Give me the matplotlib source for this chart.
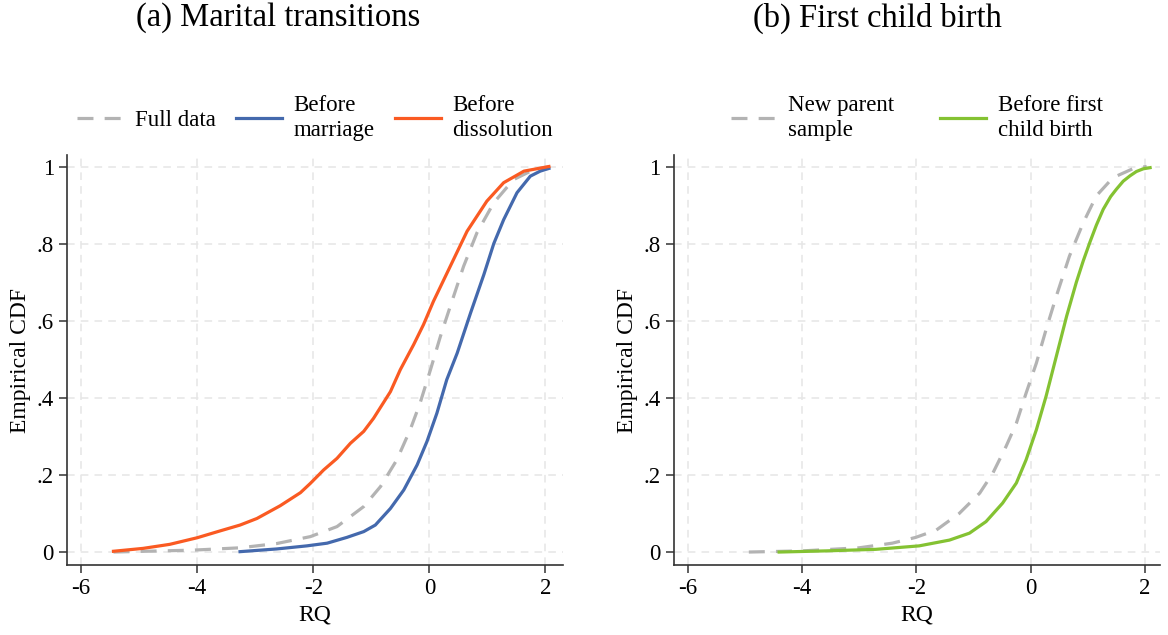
import matplotlib
matplotlib.use('Agg')
import matplotlib.pyplot as plt
import numpy as np

plt.rcParams['font.family'] = ['Liberation Serif', 'DejaVu Serif']
plt.rcParams['axes.unicode_minus'] = False

# ---- (a) Marital transitions: values ----
full_x = [-5.44, -4.06, -3.26, -2.63, -2.05, -1.59, -1.13, -0.84, -0.56, -0.33, -0.16,
          0.02, 0.19, 0.36, 0.59, 0.82, 1.11, 1.45, 1.80, 2.06]
full_y = [0.0, 0.005, 0.011, 0.022, 0.040, 0.066, 0.118, 0.170, 0.239, 0.317, 0.386,
          0.473, 0.559, 0.637, 0.741, 0.828, 0.906, 0.966, 0.992, 0.999]

marr_x = [-3.26, -2.63, -2.11, -1.76, -1.42, -1.13, -0.93, -0.67, -0.44, -0.21, -0.04,
          0.13, 0.30, 0.48, 0.71, 0.94, 1.11, 1.28, 1.51, 1.74, 1.91, 2.06]
marr_y = [0.001, 0.008, 0.016, 0.023, 0.038, 0.053, 0.070, 0.113, 0.161, 0.226, 0.287,
          0.360, 0.447, 0.516, 0.620, 0.720, 0.800, 0.862, 0.932, 0.975, 0.988, 0.995]

diss_x = [-5.44, -4.93, -4.47, -4.0, -3.6, -3.26, -2.97, -2.57, -2.22, -2.05, -1.82,
          -1.59, -1.36, -1.13, -0.96, -0.67, -0.50, -0.27, -0.10, 0.07, 0.36, 0.65,
          0.99, 1.28, 1.63, 2.06]
diss_y = [0.002, 0.0095, 0.020, 0.037, 0.055, 0.070, 0.087, 0.120, 0.154, 0.178, 0.213,
          0.243, 0.282, 0.313, 0.347, 0.416, 0.473, 0.538, 0.590, 0.650, 0.741, 0.832,
          0.910, 0.958, 0.988, 1.0]

# ---- (b) First child birth ----
par_x = [-4.93, -3.99, -3.0, -2.42, -2.01, -1.65, -1.25, -0.89, -0.66, -0.43, -0.25,
         -0.08, 0.10, 0.27, 0.45, 0.68, 0.92, 1.15, 1.44, 1.80, 2.03]
par_y = [0.0, 0.003, 0.011, 0.023, 0.038, 0.057, 0.100, 0.153, 0.205, 0.274, 0.334,
         0.412, 0.490, 0.577, 0.664, 0.768, 0.854, 0.924, 0.971, 0.995, 1.0]

child_x = [-4.40, -3.58, -2.71, -1.95, -1.42, -1.07, -0.78, -0.49, -0.25, -0.08, 0.10,
           0.27, 0.45, 0.63, 0.80, 0.92, 1.04, 1.15, 1.27, 1.40, 1.50, 1.62, 1.74,
           1.85, 1.97, 2.09]
child_y = [0.0, 0.003, 0.007, 0.016, 0.031, 0.049, 0.079, 0.127, 0.179, 0.239, 0.317,
           0.404, 0.508, 0.612, 0.700, 0.755, 0.805, 0.848, 0.889, 0.922, 0.941, 0.962,
           0.976, 0.987, 0.994, 0.997]

xticks = [-6, -4, -2, 0, 2]
yticks = [0, 0.2, 0.4, 0.6, 0.8, 1]
ylabels = ['0', '.2', '.4', '.6', '.8', '1']

gray = '#b3b3b3'
blue = '#4469ad'
orange = '#fa5a22'
green = '#84c232'

fig = plt.figure(figsize=(11.68, 6.35), dpi=100)
ax1 = fig.add_axes([0.0574, 0.110, 0.425, 0.646])
ax2 = fig.add_axes([0.577, 0.110, 0.416, 0.646])


def style(ax, xmax):
    ax.set_xlim(-6.24, xmax)
    ax.set_ylim(-0.034, 1.03)
    ax.set_xticks(xticks)
    ax.set_yticks(yticks)
    ax.set_yticklabels(ylabels)
    ax.grid(True, color='#e6e6e6', linestyle=(0, (5, 4)), linewidth=1.1)
    ax.set_axisbelow(True)
    for s in ['top', 'right']:
        ax.spines[s].set_visible(False)
    for s in ['left', 'bottom']:
        ax.spines[s].set_color('#333333')
        ax.spines[s].set_linewidth(1.2)
    ax.tick_params(labelsize=16.5, length=6, width=1.1, color='#333333')
    ax.set_xlabel('RQ', fontsize=17)
    ax.set_ylabel('Empirical CDF', fontsize=17)


dash = (0, (5, 3.5))

ax1.plot(full_x, full_y, color=gray, lw=2.3, linestyle=dash, label='Full data')
ax1.plot(marr_x, marr_y, color=blue, lw=2.3, label='Before\nmarriage')
ax1.plot(diss_x, diss_y, color=orange, lw=2.3, label='Before\ndissolution')
style(ax1, 2.31)
ax1.legend(loc='center', bbox_to_anchor=(0.5, 1.09), ncol=3, frameon=False,
           fontsize=16.5, handlelength=2.0, handletextpad=0.5, columnspacing=0.9,
           labelspacing=0.1)

ax2.plot(par_x, par_y, color=gray, lw=2.3, linestyle=dash, label='New parent\nsample')
ax2.plot(child_x, child_y, color=green, lw=2.3, label='Before first\nchild birth')
style(ax2, 2.26)
ax2.legend(loc='center', bbox_to_anchor=(0.5, 1.09), ncol=2, frameon=False,
           fontsize=16.5, handlelength=2.0, handletextpad=0.5, columnspacing=2.0,
           labelspacing=0.1)

fig.text(0.238, 1 - 18 / 635, '(a) Marital transitions', fontsize=23.5, ha='center', va='center')
fig.text(0.751, 1 - 18 / 635, '(b) First child birth', fontsize=23.5, ha='center', va='center')

fig.savefig('out.png', dpi=100)
